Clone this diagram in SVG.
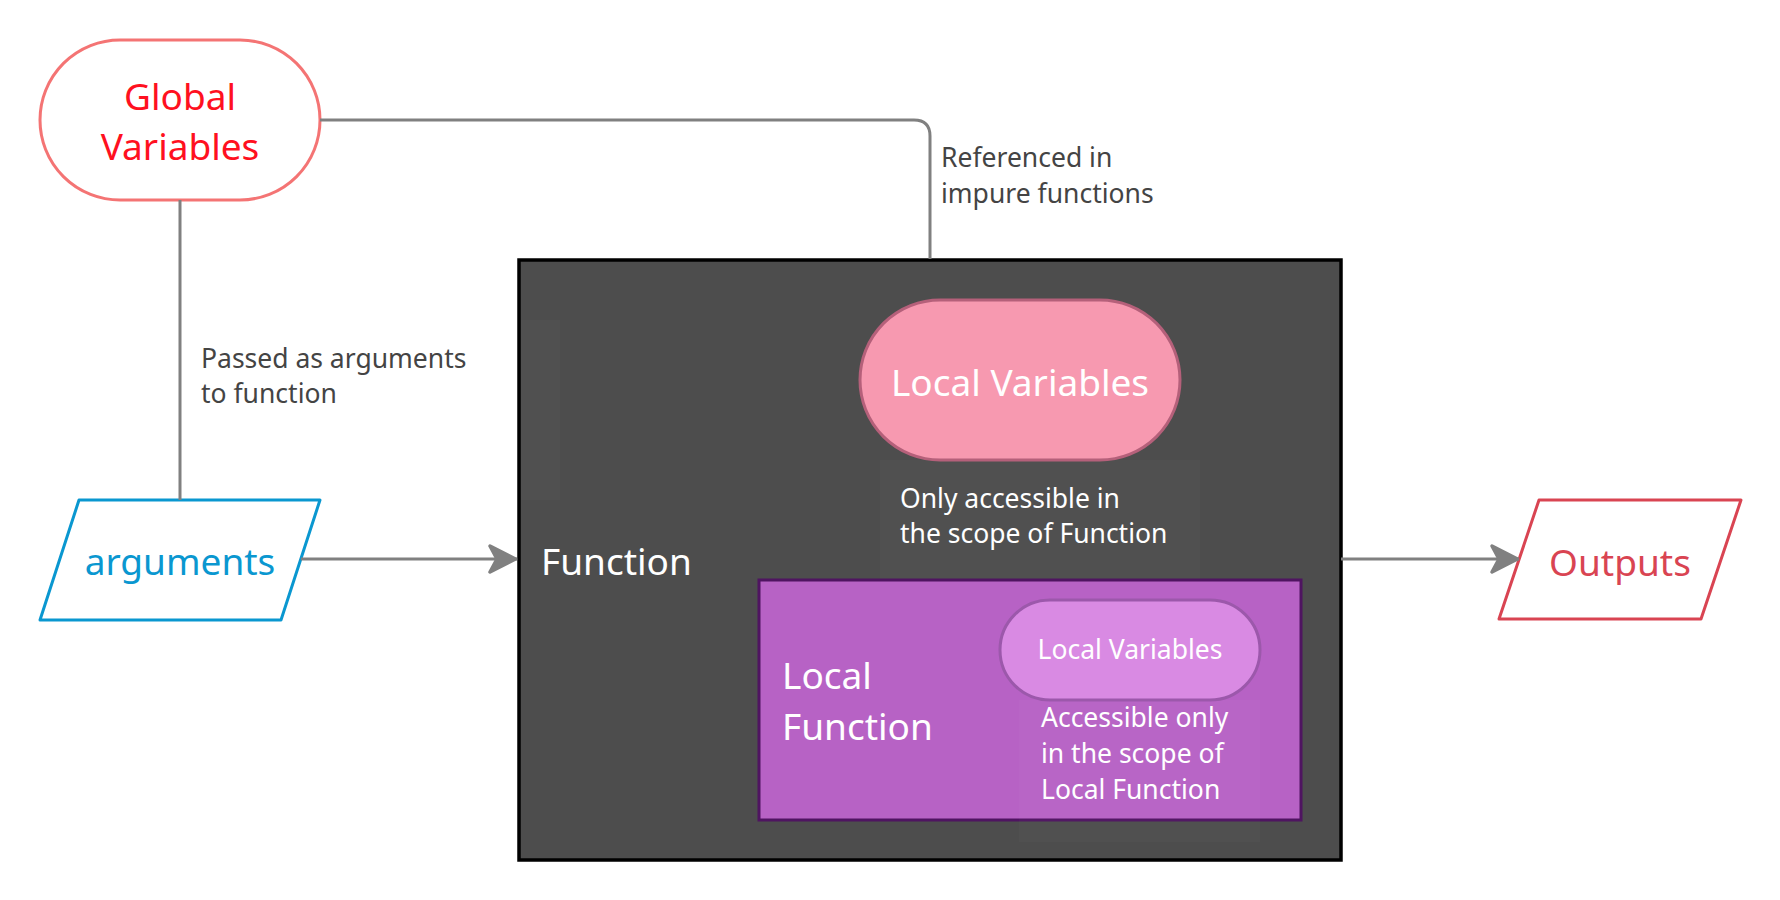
<svg xmlns="http://www.w3.org/2000/svg" width="1780" height="900" viewBox="0 0 1780 900">
<style>
text { font-family: "Noto Sans", "Open Sans", sans-serif; }
.big { font-size: 37px; }
.lbl { font-size: 26.5px; fill: #444444; }
.wht { fill: #ffffff; }
.conn { fill: none; stroke: #808080; stroke-width: 3; }
.faint { fill: #ffffff; opacity: 0.02; }
</style>
<defs>
<marker id="arr" viewBox="-30 -16 32 32" refX="0" refY="0" markerWidth="32" markerHeight="32" markerUnits="userSpaceOnUse" orient="auto">
<path d="M-1.5,0 L-27,-13 L-20,0 L-27,13 Z" fill="#808080" stroke="#808080" stroke-width="3.5" stroke-linejoin="round"/>
</marker>
</defs>
<rect width="1780" height="900" fill="#ffffff"/>

<g id="function">
<rect x="519" y="260" width="822" height="600" fill="#4d4d4d" stroke="#000000" stroke-width="3.5"/>
<rect class="faint" x="521" y="320" width="39" height="180"/>
<rect class="faint" x="880" y="460" width="320" height="119"/>
<text class="wht" x="541" y="575" style="font-size:37px">Function</text>
<text class="lbl wht" x="900" y="508">Only accessible in</text>
<text class="lbl wht" x="900" y="543">the scope of Function</text>
</g>

<g id="local-variables">
<rect x="860" y="300" width="320" height="160" rx="80" fill="#f799b0" stroke="#b5607a" stroke-width="3"/>
<text class="big wht" x="1020" y="396" text-anchor="middle">Local Variables</text>
</g>

<g id="local-function">
<rect x="759" y="580" width="542" height="240" fill="#b762c5" stroke="#4f1461" stroke-width="3"/>
<rect class="faint" x="1019" y="700" width="241" height="142"/>
<text class="wht" x="782" y="689" style="font-size:37px">Local</text>
<text class="wht" x="782" y="740" style="font-size:37px">Function</text>
<text class="lbl wht" x="1041" y="727">Accessible only</text>
<text class="lbl wht" x="1041" y="763">in the scope of</text>
<text class="lbl wht" x="1041" y="799">Local Function</text>
</g>

<g id="inner-local-variables">
<rect x="1000" y="600" width="260" height="100" rx="50" fill="#d98ae3" stroke="#9c58ab" stroke-width="3"/>
<text class="wht" x="1130" y="659" text-anchor="middle" style="font-size:26.5px">Local Variables</text>
</g>

<g id="global-variables">
<rect x="40" y="40" width="280" height="160" rx="80" fill="#ffffff" stroke="#f47474" stroke-width="3"/>
<text class="big" x="180" y="110" text-anchor="middle" fill="#ff1020">Global</text>
<text class="big" x="180" y="160" text-anchor="middle" fill="#ff1020">Variables</text>
</g>

<g id="arguments">
<polygon points="79,500 320,500 281,620 40,620" fill="#ffffff" stroke="#0a97d0" stroke-width="3" stroke-linejoin="round"/>
<text class="big" x="180" y="575" text-anchor="middle" fill="#0a97d0">arguments</text>
</g>

<g id="outputs">
<polygon points="1539,500 1741,500 1701,619 1499,619" fill="#ffffff" stroke="#d94452" stroke-width="3" stroke-linejoin="round"/>
<text class="big" x="1620" y="576" text-anchor="middle" fill="#d94452">Outputs</text>
</g>

<g id="connectors">
<path class="conn" d="M320,120 H914 Q930,120 930,136 V259"/>
<path class="conn" d="M180,200 V500"/>
<path class="conn" d="M301,559 H517" marker-end="url(#arr)"/>
<path class="conn" d="M1341,559 H1519" marker-end="url(#arr)"/>
<text class="lbl" x="941" y="167">Referenced in</text>
<text class="lbl" x="941" y="203">impure functions</text>
<text class="lbl" x="201" y="368">Passed as arguments</text>
<text class="lbl" x="201" y="403">to function</text>
</g>
</svg>
